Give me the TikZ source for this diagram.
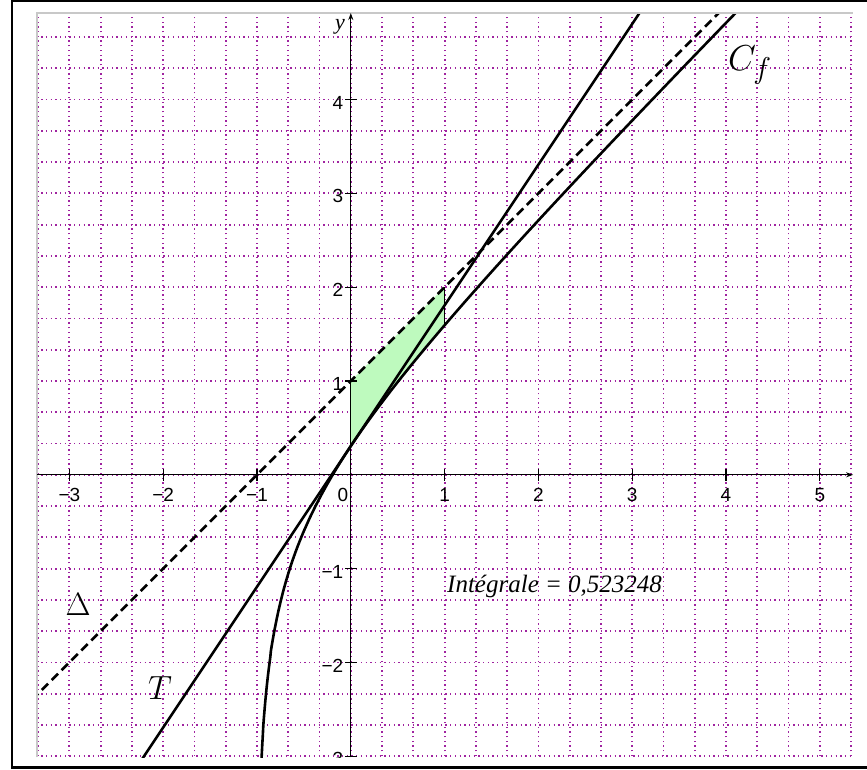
\documentclass[tikz,border=0pt]{standalone}
\usepackage{fontspec}
\newfontfamily\labfont{Liberation Sans}
\newfontfamily\intfont{Liberation Serif}
\usetikzlibrary{arrows.meta}
\definecolor{gridpurple}{RGB}{160,35,160}
\definecolor{areagreen}{RGB}{190,250,190}
\definecolor{plotgray}{RGB}{200,200,200}
\begin{document}
\begin{tikzpicture}[x=93.8pt,y=93.8pt,
  gridline/.style={gridpurple, line width=1.8pt, dash pattern=on 1.3pt off 3.4pt},
  axisline/.style={black, line width=1.1pt},
  curveline/.style={black, line width=2.6pt, line join=round},
  dashline/.style={black, line width=2.6pt, dash pattern=on 9pt off 5pt},
  ticklab/.style={font=\labfont\fontsize{19}{19}\selectfont, inner sep=0pt},
  mathlab/.style={font=\Huge, inner sep=0pt},
  declare function={f(\x)=\x+1+ln((\x+1)/(\x+2));}
]
\useasboundingbox (-3.7399,-3.1365) rectangle (5.5032,5.0618);
\fill[white] (-3.7399,-3.1365) rectangle (5.5032,5.0618);
\begin{scope}
  \clip (-3.345,-3.012) rectangle (5.355,4.923);
  % grid
  \foreach \i in {-10,...,16} {
    \draw[gridline] ({\i/3},-3.1) -- ({\i/3},5);
  }
  \foreach \j in {-9,...,14} {
    \draw[gridline] (-3.4,{\j/3}) -- (5.4,{\j/3});
  }
  % integral area
  \fill[areagreen] (0,1) -- (1,2) -- plot[domain=1:0, samples=40] (\x,{f(\x)}) -- cycle;
  \draw[black, line width=1pt] (1,2) -- (1,{f(1)});
  % curves
  \draw[dashline] (-3.4,-2.4) -- (4.3,5.3);
  \draw[curveline] (-2.4,-3.29315) -- (3.3,5.25685);
  \draw[curveline] plot[domain=-0.956:-0.5, samples=80] (\x,{f(\x)})
                   -- plot[domain=-0.5:4.4, samples=80] (\x,{f(\x)});
  % clipped labels
  \node[ticklab] (xname) at (5.428,-0.237) {\intfont\itshape x};
  \node[ticklab, anchor=east] (ym3) at (-0.0778,-3.032) {−3};
  \draw[axisline] (-0.064,-3) -- (0.064,-3);
\end{scope}
% plot frame (gray)
\draw[plotgray, line width=1.6pt] (-3.345,-3.012) -- (-3.345,4.923) -- (5.355,4.923);
% axes
\draw[axisline, -{Stealth[length=7pt,width=5pt]}] (-3.345,0) -- (5.355,0);
\draw[axisline, -{Stealth[length=7pt,width=5pt]}] (0,-3.012) -- (0,4.923);
% ticks and labels on x
\foreach \i/\t in {-3/−3,-2/−2,-1/−1,1/1,2/2,3/3,4/4,5/5} {
  \draw[axisline] (\i,-0.064) -- (\i,0.064);
  \node[ticklab] (xl\i) at (\i,-0.2154) {\t};
}
\node[ticklab] (xl0) at (-0.0832,-0.2154) {0};
% ticks and labels on y
\foreach \j/\t in {-2/−2,-1/−1,1/1,2/2,3/3,4/4} {
  \draw[axisline] (-0.064,\j) -- (0.064,\j);
  \node[ticklab, anchor=east] (yl\j) at (-0.0778,{\j-0.032}) {\t};
}
\node[font=\intfont\itshape\fontsize{22}{22}\selectfont, inner sep=0pt] (yname) at (-0.115,4.777) {y};
% curve labels
\node[mathlab, scale=1.45] (labC) at (4.256,4.369) {$C_f$};
\node[mathlab, scale=1.3] (labD) at (-2.908,-1.377) {$\Delta$};
\node[mathlab, scale=1.35] (labT) at (-2.033,-2.273) {$T$};
\node[font=\intfont\itshape\fontsize{25}{25}\selectfont, inner sep=0pt, anchor=base west] (integ) at (1.0256,-1.2495) {Intégrale = 0,523248};
% outer frame (left, top, bottom visible)
\draw[black, line width=2.5pt] (5.6,-3.1205) -- (-3.6119,-3.1205) -- (-3.6119,5.0511) -- (5.6,5.0511);
\end{tikzpicture}
\end{document}
